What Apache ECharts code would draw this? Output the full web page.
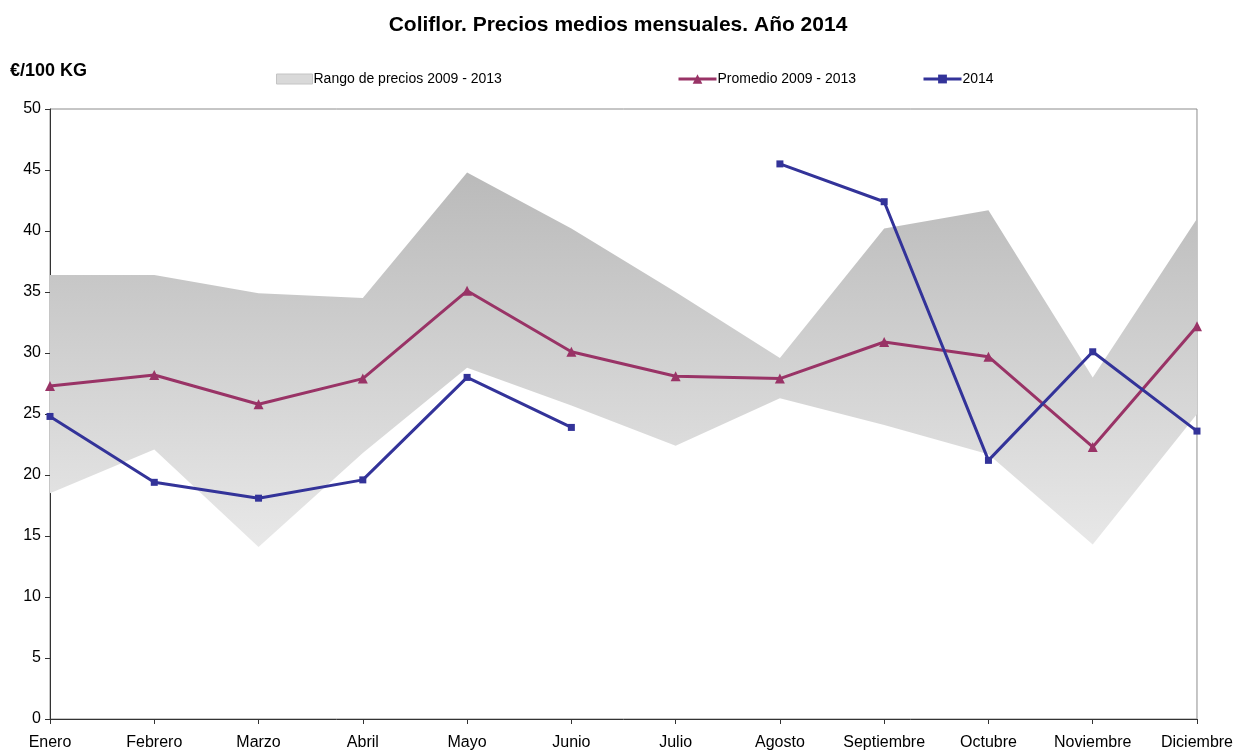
<!DOCTYPE html>
<html>
<head>
<meta charset="utf-8">
<script src="https://cdn.jsdelivr.net/npm/echarts@6/dist/echarts.min.js"></script>
<style>
  html, body { margin: 0; padding: 0; background: #fff; }
  #chart { width: 1236px; height: 751px; }
</style>
</head>
<body>
<div id="chart"></div>
<script>
// datos
var meses = ['Enero', 'Febrero', 'Marzo', 'Abril', 'Mayo', 'Junio', 'Julio', 'Agosto', 'Septiembre', 'Octubre', 'Noviembre', 'Diciembre'];
var rangoMin = [18.5, 22.1, 14.1, 21.8, 28.8, 25.7, 22.4, 26.3, 24.1, 21.7, 14.3, 25.0];
var rangoMax = [36.4, 36.4, 34.9, 34.5, 44.8, 40.2, 35.0, 29.6, 40.2, 41.7, 28.0, 41.0];
var promedio = [27.3, 28.2, 25.8, 27.9, 35.1, 30.1, 28.1, 27.9, 30.9, 29.7, 22.3, 32.2];
var precios2014 = [24.8, 19.4, 18.1, 19.6, 28.0, 23.9, null, 45.5, 42.4, 21.2, 30.1, 23.6];

var rangoAlto = [];
for (var i = 0; i < rangoMin.length; i++) {
  rangoAlto.push(+(rangoMax[i] - rangoMin[i]).toFixed(2));
}

var fuente = 'Liberation Sans, Arial, sans-serif';

var myChart = echarts.init(document.getElementById('chart'));
var option = {
  animation: false,
  textStyle: { fontFamily: fuente },
  title: [
    {
      text: 'Coliflor. Precios medios mensuales. Año 2014',
      left: 'center',
      top: 10,
      textStyle: { fontSize: 21, fontWeight: 'bold', color: '#000', fontFamily: fuente }
    },
    {
      text: '€/100 KG',
      left: 5,
      top: 57,
      textStyle: { fontSize: 18, fontWeight: 'bold', color: '#000', fontFamily: fuente }
    }
  ],
  legend: [
    {
      left: 271, top: 67,
      itemWidth: 36, itemHeight: 10, itemGap: 4,
      data: [{ name: 'Rango de precios 2009 - 2013', icon: 'rect',
               itemStyle: { color: '#d9d9d9', borderColor: '#c4c4c4', borderWidth: 1 } }],
      textStyle: { fontSize: 14, color: '#000', padding: [0, 0, 0, -4] }
    },
    {
      left: 672, top: 67,
      itemWidth: 38, itemHeight: 12,
      lineStyle: { width: 3 },
      data: ['Promedio 2009 - 2013'],
      textStyle: { fontSize: 14, color: '#000', padding: [0, 0, 0, -4] }
    },
    {
      left: 917, top: 67,
      itemWidth: 38, itemHeight: 11,
      lineStyle: { width: 3 },
      data: ['2014'],
      textStyle: { fontSize: 14, color: '#000', padding: [0, 0, 0, -4] }
    }
  ],
  grid: {
    left: 50, right: 38, top: 109, bottom: 30,
    show: true,
    borderColor: '#8c8c8c',
    borderWidth: 1
  },
  xAxis: {
    type: 'category',
    data: meses,
    boundaryGap: false,
    axisLine: { lineStyle: { color: '#333', width: 1 } },
    axisTick: { show: true, length: 5, alignWithLabel: true, lineStyle: { color: '#333' } },
    axisLabel: { color: '#000', fontSize: 16, margin: 16, interval: 0 },
    splitLine: { show: false }
  },
  yAxis: {
    type: 'value',
    min: 0,
    max: 50,
    interval: 5,
    axisLine: { show: true, lineStyle: { color: '#333', width: 1 } },
    axisTick: { show: true, length: 5, lineStyle: { color: '#333' } },
    axisLabel: { color: '#000', fontSize: 16, margin: 9 },
    splitLine: { show: false }
  },
  series: [
    {
      name: 'base',
      type: 'line',
      stack: 'rango',
      data: rangoMin,
      symbol: 'none',
      lineStyle: { opacity: 0 },
      areaStyle: { opacity: 0 },
      silent: true,
      z: 1
    },
    {
      name: 'Rango de precios 2009 - 2013',
      type: 'line',
      stack: 'rango',
      data: rangoAlto,
      symbol: 'none',
      lineStyle: { opacity: 0 },
      itemStyle: { color: '#d6d6d6' },
      areaStyle: {
        opacity: 1,
        color: new echarts.graphic.LinearGradient(0, 0, 0, 1, [
          { offset: 0, color: '#bababa' },
          { offset: 1, color: '#e8e8e8' }
        ])
      },
      z: 1
    },
    {
      name: 'Promedio 2009 - 2013',
      type: 'line',
      data: promedio,
      symbol: 'triangle',
      symbolSize: 10,
      itemStyle: { color: '#993366' },
      lineStyle: { color: '#993366', width: 3 },
      z: 3
    },
    {
      name: '2014',
      type: 'line',
      data: precios2014,
      connectNulls: false,
      symbol: 'rect',
      symbolSize: 7,
      itemStyle: { color: '#333399' },
      lineStyle: { color: '#333399', width: 3 },
      z: 4
    }
  ]
};
myChart.setOption(option);
</script>
</body>
</html>
